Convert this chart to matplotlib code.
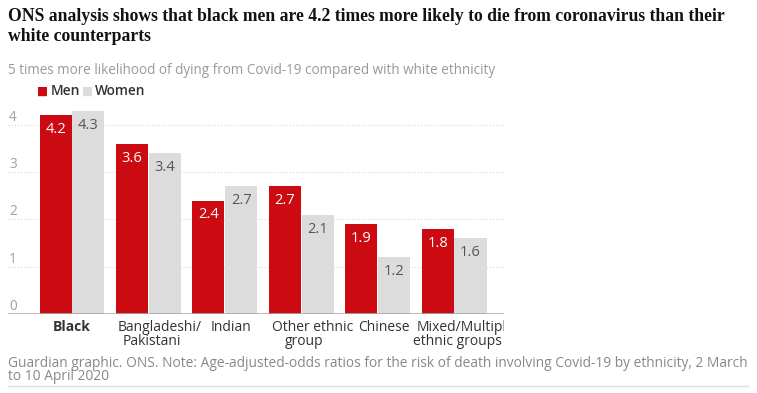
import matplotlib
matplotlib.use("Agg")
import matplotlib.pyplot as plt
import matplotlib.transforms as mtransforms
from matplotlib.patches import Rectangle
import numpy as np

categories = ["Black", "Bangladeshi/\nPakistani", "Indian", "Other ethnic\ngroup",
              "Chinese", "Mixed/Multiple\nethnic groups"]
men = [4.2, 3.6, 2.4, 2.7, 1.9, 1.8]
women = [4.3, 3.4, 2.7, 2.1, 1.2, 1.6]
yticks = [0, 1, 2, 3, 4]

title_lines = ["ONS analysis shows that black men are 4.2 times more likely to die from coronavirus than their",
               "white counterparts"]
subtitle = "5 times more likelihood of dying from Covid-19 compared with white ethnicity"
footer = ("Guardian graphic. ONS. Note: Age-adjusted-odds ratios for the risk of death involving Covid-19 by ethnicity, 2 March\n"
          "to 10 April 2020")

RED = "#cc0a11"
GREY = "#dcdcdc"
SANS = "Open Sans"
SERIF = "Liberation Serif"

W, H = 757, 393
fig = plt.figure(figsize=(W / 100, H / 100), dpi=100)
fig.patch.set_facecolor("white")

# axes: x from 8px to 504px, y baseline 314px, top at 106px
ax = fig.add_axes([8 / W, (H - 314) / H, (504 - 8) / W, (314 - 106) / H])
ax.set_facecolor("none")
x = np.arange(len(categories))
bw = 0.42
off = 0.215
ax.bar(x - off, men, width=bw, color=RED, zorder=3)
ax.bar(x + off, women, width=bw, color=GREY, zorder=3)
ax.set_xlim(-0.838, 5.654)
ax.set_ylim(0, 4.4)

for s in ax.spines.values():
    s.set_visible(False)
ax.set_xticks([])
ax.set_yticks([])

tr = mtransforms.blended_transform_factory(ax.transAxes, ax.transData)
for v in yticks:
    if v == 0:
        ax.axhline(v, color="#aaaaaa", lw=1.2, zorder=4)
    else:
        ax.axhline(v, color="#dddddd", lw=0.9, ls=(0, (1, 1.5)), zorder=1)
    ax.text(0.002, v, str(v), transform=tr, ha="left", va="bottom",
            fontsize=9.8, color="#a0a0a0", family=SANS)

for xi, m, w in zip(x, men, women):
    ax.annotate(f"{m}", (xi - off, m), xytext=(0, -5), textcoords="offset points",
                ha="center", va="top", color="white", fontsize=10.5, family=SANS, zorder=5)
    ax.annotate(f"{w}", (xi + off, w), xytext=(0, -5), textcoords="offset points",
                ha="center", va="top", color="#555555", fontsize=10.5, family=SANS, zorder=5)

clip = Rectangle((0, 0), 504 / W, 1, transform=fig.transFigure)
PT = 72 / 100  # points per pixel
for i, (xi, lab) in enumerate(zip(x, categories)):
    lines = lab.split("\n")
    for k, line in enumerate(lines):
        if i == 0:
            dx = 0
        elif len(lines) == 1:
            dx = 6
        else:
            dx = 11 if k == 0 else 3
        t = ax.annotate(line, (xi, 0), xytext=(dx * PT, -(6 + 14 * k) * PT),
                        textcoords="offset points", ha="center", va="top",
                        fontsize=10, color="#333333", family=SANS,
                        fontweight="bold" if i == 0 else "normal",
                        annotation_clip=False)
        t.set_clip_on(True)
        t.set_clip_path(clip)

# title, fitted to the reference line width
renderer = fig.canvas.get_renderer()
probe = fig.text(0, 0, title_lines[0], fontsize=12, fontweight="bold", family=SERIF)
wpx = probe.get_window_extent(renderer).width
probe.remove()
tsize = 12 * 714 / wpx
for k, line in enumerate(title_lines):
    fig.text(8 / W, 1 - (21 + 20 * k) / H, line, ha="left", va="baseline", fontsize=tsize,
             fontweight="bold", family=SERIF, color="#121212")

fig.text(8 / W, 1 - 70 / H, subtitle, ha="left", va="center", fontsize=9.75,
         family=SANS, color="#999999")

# legend
fig.text(36.5 / W, 1 - 91 / H, "■", ha="left", va="center", fontsize=8.5, color=RED)
fig.text(51 / W, 1 - 91 / H, "Men", ha="left", va="center", fontsize=10,
         family=SANS, color="#333333", fontweight="semibold")
fig.text(81.5 / W, 1 - 91 / H, "■", ha="left", va="center", fontsize=8.5, color=GREY)
fig.text(95 / W, 1 - 91 / H, "Women", ha="left", va="center", fontsize=9.8,
         family=SANS, color="#333333", fontweight="semibold")

fig.text(8 / W, 1 - 356 / H, footer, ha="left", va="top", fontsize=9.9,
         family=SANS, color="#888888", linespacing=0.85)
fig.add_artist(plt.Line2D([8 / W, 748 / W], [1 - 386 / H, 1 - 386 / H],
                          transform=fig.transFigure, color="#dddddd", lw=1))

fig.savefig("out.png", dpi=100, facecolor="white")
